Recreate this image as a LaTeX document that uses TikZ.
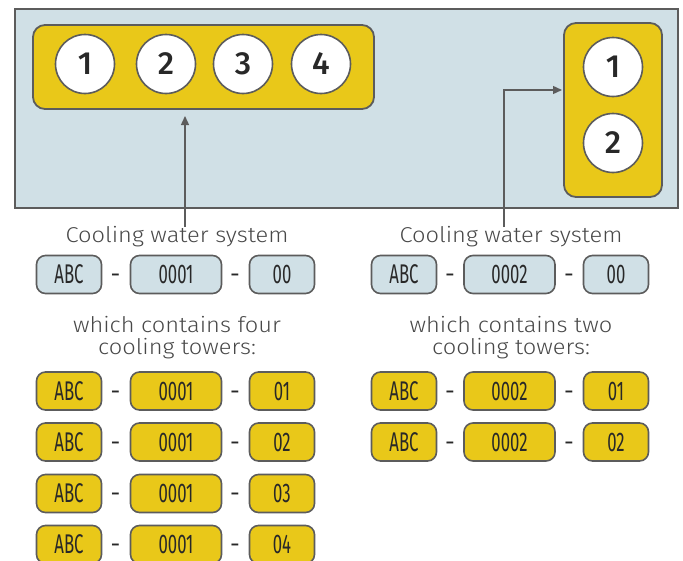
\documentclass[tikz,border=0pt]{standalone}
\usepackage{fontspec}
\setmainfont{Fira Sans}
\newfontfamily\lightf[FakeStretch=1.1]{Fira Sans Light}
\newfontfamily\medf{Fira Sans Medium}
\newfontfamily\condf[FakeStretch=0.62]{Fira Sans}
\usetikzlibrary{arrows.meta,calc}
\definecolor{bluebg}{RGB}{208,224,230}
\definecolor{yel}{RGB}{233,200,25}
\definecolor{edge}{RGB}{92,92,92}
\definecolor{ink}{RGB}{40,40,40}
\tikzset{
  tag/.style={draw=edge, line width=1.6pt, rounded corners=9pt, inner sep=0pt,
    minimum height=38pt, text=ink, font=\condf\fontsize{27}{27}\selectfont},
  btag/.style={tag, fill=bluebg},
  ytag/.style={tag, fill=yel},
  shortw/.style={minimum width=65pt},
  longw/.style={minimum width=91pt},
  dashlbl/.style={inner sep=0pt, text=ink, yshift=-4pt, font=\condf\fontsize{24}{24}\selectfont},
  tower/.style={circle, draw=edge, line width=1.6pt, fill=white, minimum size=59pt,
    inner sep=0pt, text=ink, font=\medf\fontsize{32}{32}\selectfont},
  group/.style={draw=edge, line width=1.8pt, fill=yel, rounded corners=12pt},
  caption/.style={text=ink!85, font=\lightf\fontsize{21.5}{22}\selectfont, align=center, inner sep=0pt},
  arr/.style={draw=edge, line width=1.4pt, -{Triangle[length=9pt,width=8pt]}}
}
\begin{document}
\begin{tikzpicture}[x=1pt,y=-1pt]
\useasboundingbox (0,0) rectangle (683,560);
\begin{scope}
\clip (0,0) rectangle (683,560);
% plant
\draw[draw=edge, line width=2pt, fill=bluebg] (15,9) rectangle (678,208);
\draw[group] (33,25) rectangle (374,109);
\draw[group] (564,23) rectangle (662,197);
\node[tower] (t1) at (85,64) {1};
\node[tower] (t2) at (166,64) {2};
\node[tower] (t3) at (243,64) {3};
\node[tower] (t4) at (321,64) {4};
\node[tower] (u1) at (613,67) {1};
\node[tower] (u2) at (613,143) {2};

% captions
\node[caption] (cap1) at (177,237) {Cooling water system};
\node[caption] (cap2) at (511,237) {Cooling water system};
\node[caption] (sub1) at (177,338) {which contains four\\cooling towers:};
\node[caption] (sub2) at (511,338) {which contains two\\cooling towers:};

% arrows
\coordinate (a1s) at (185,227);
\coordinate (a1e) at (185,116);
\draw[arr] (a1s) -- (a1e);
\coordinate (a2s) at (504,227);
\coordinate (a2e) at (562,90);
\draw[arr] (a2s) |- (a2e);

% left system tags
\foreach \r/\y/\s/\c in {0/274.5/00/b, 1/391/01/y, 2/442/02/y, 3/493.5/03/y, 4/544.5/04/y}{
  \node[\c tag, shortw] (L\r a) at (69,\y) {ABC};
  \node[dashlbl] (L\r d1) at (115.5,\y) {–};
  \node[\c tag, longw] (L\r b) at (176,\y) {0001};
  \node[dashlbl] (L\r d2) at (235,\y) {–};
  \node[\c tag, shortw] (L\r c) at (282,\y) {\s};
}
% right system tags
\foreach \r/\y/\s/\c in {0/274.5/00/b, 1/391/01/y, 2/442/02/y}{
  \node[\c tag, shortw] (R\r a) at (404,\y) {ABC};
  \node[dashlbl] (R\r d1) at (450,\y) {–};
  \node[\c tag, longw] (R\r b) at (509.5,\y) {0002};
  \node[dashlbl] (R\r d2) at (569,\y) {–};
  \node[\c tag, shortw] (R\r c) at (616,\y) {\s};
}
\end{scope}
\end{tikzpicture}
\end{document}
